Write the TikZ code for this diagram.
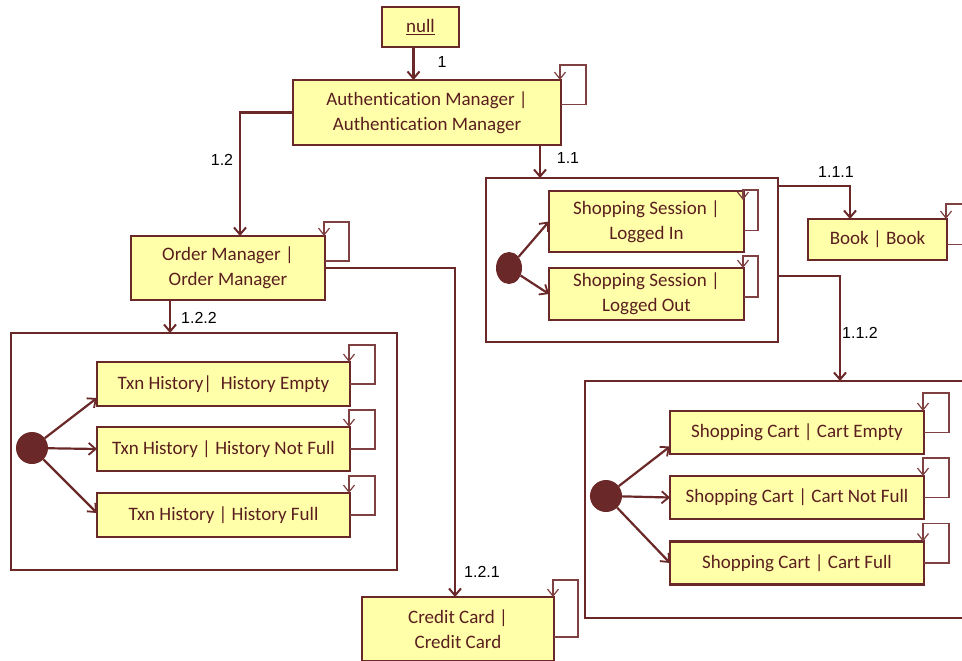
\documentclass[tikz,border=0pt]{standalone}
\usepackage{fontspec}
\setmainfont[Ligatures=NoCommon]{Carlito}
\newfontfamily\labelfont{Liberation Sans}
\usetikzlibrary{arrows.meta,shapes.geometric}
\definecolor{edgebrown}{HTML}{6B2828}
\definecolor{loopbrown}{HTML}{7E4040}
\definecolor{boxfill}{HTML}{FFFFAA}
\definecolor{textbrown}{HTML}{5A1E1E}
\tikzset{
  statebox/.style={draw=edgebrown, line width=2.4pt, fill=boxfill, text=textbrown,
    font=\fontsize{19}{25}\selectfont, align=center, inner sep=0pt, outer sep=0pt},
  region/.style={draw=edgebrown, line width=2.2pt, fill=white, inner sep=0pt, outer sep=0pt},
  initdot/.style={fill=edgebrown, draw=none, ellipse},
  flow/.style={draw=edgebrown, line width=2.4pt, -{Straight Barb[length=7pt,width=12pt,line width=2pt]}},
  entry/.style={draw=edgebrown, line width=2.2pt, -{Straight Barb[length=7pt,width=12pt,line width=1.8pt]}},
  selfloop/.style={draw=loopbrown, line width=1.4pt, -{Straight Barb[length=7pt,width=11pt,line width=1.2pt]}},
  seqlabel/.style={font=\labelfont\fontsize{16}{18}\selectfont, text=black, inner sep=0pt},
}
% self transition: leaves the east side, climbs above the box and drops onto its top-right corner
\newcommand{\selfloop}[4]{% node, east offset (up), loop width, loop rise
  \draw[selfloop] ([yshift=#2]#1.east) -- ++(#3,0pt) |- ([xshift=-1pt,yshift=#4]#1.north east) -- ([xshift=-1pt]#1.north east);}
\begin{document}
\begin{tikzpicture}[x=1pt,y=-1pt]
\useasboundingbox (0,0) rectangle (962,661);
\clip (0,0) rectangle (962,661);

% regions
\node[region, minimum width=292pt, minimum height=164pt] (sessregion) at (632,260) {};
\node[region, minimum width=386pt, minimum height=237pt] (txnregion) at (204,451.5) {};
\node[region, minimum width=395pt, minimum height=237pt] (cartregion) at (782.5,499.5) {};

% top-level objects
\node[statebox, minimum width=77pt, minimum height=40pt] (null) at (420.5,27) {\underline{null}};
\node[statebox, minimum width=268pt, minimum height=65pt] (auth) at (427,112.5) {Authentication Manager |\\Authentication Manager};
\node[statebox, minimum width=194pt, minimum height=64pt] (order) at (228,268) {Order Manager |\\Order Manager};
\node[statebox, minimum width=192pt, minimum height=64pt] (credit) at (458,629) {Credit Card |\\Credit Card};
\node[statebox, minimum width=139pt, minimum height=41pt] (book) at (877.5,239.5) {Book | Book};

% shopping session states
\node[statebox, minimum width=195pt, minimum height=61pt] (sess1) at (646.5,221.5) {Shopping Session |\\Logged In};
\node[statebox, minimum width=195pt, minimum height=52pt] (sess2) at (646.5,294) {Shopping Session |\\Logged Out};
\node[initdot, minimum width=26pt, minimum height=32pt, inner sep=0pt] (sessinit) at (509,268) {};

% transaction history states
\node[statebox, minimum width=253pt, minimum height=44pt] (txn1) at (223.5,384) {Txn History|\ \ History Empty};
\node[statebox, minimum width=253pt, minimum height=44pt] (txn2) at (223.5,449) {Txn History | History Not Full};
\node[statebox, minimum width=253pt, minimum height=44pt] (txn3) at (223.5,515) {Txn History | History Full};
\node[initdot, minimum size=32pt, inner sep=0pt] (txninit) at (32,448) {};

% shopping cart states
\node[statebox, minimum width=254pt, minimum height=43pt] (cart1) at (797,432.5) {Shopping Cart | Cart Empty};
\node[statebox, minimum width=254pt, minimum height=43pt] (cart2) at (797,497.5) {Shopping Cart | Cart Not Full};
\node[statebox, minimum width=254pt, minimum height=43pt] (cart3) at (797,563) {Shopping Cart | Cart Full};
\node[initdot, minimum size=32pt, inner sep=0pt] (cartinit) at (606,496) {};

% message flow
\draw[flow] ([xshift=-7pt]null.south) -- ([xshift=-7pt]null.south |- auth.north);
\draw[flow] (auth.west) -| (order.north -| 240,0);
\draw[flow] (auth.south -| 540,0) -- (sessregion.north -| 540,0);
\draw[flow] (sessregion.north east |- 0,186) -| (book.north -| 850,0);
\draw[flow] (sessregion.east |- 0,276) -| (cartregion.north -| 840,0);
\draw[flow] (order.south -| 170,0) -- (txnregion.north -| 170,0);
\draw[flow] (order.east) -| (credit.north -| 455,0);

% sequence numbers
\node[seqlabel] (l1) at (442,62) {1};
\node[seqlabel] (l12) at (222,160) {1.2};
\node[seqlabel] (l11) at (568,158) {1.1};
\node[seqlabel] (l122) at (199,318) {1.2.2};
\node[seqlabel] (l121) at (482,572) {1.2.1};
\node[seqlabel] (l111) at (836,172) {1.1.1};
\node[seqlabel] (l112) at (860,333) {1.1.2};

% initial transitions
\draw[entry] (sessinit) -- (sess1.west);
\draw[entry] (sessinit) -- (sess2.west);
\draw[entry] (txninit) -- ([yshift=-14pt]txn1.west);
\draw[entry] (txninit) -- (txn2.west);
\draw[entry] (txninit) -- ([yshift=2pt]txn3.west);
\draw[entry] (cartinit) -- ([yshift=-14pt]cart1.west);
\draw[entry] (cartinit) -- (cart2.west);
\draw[entry] (cartinit) -- (cart3.west);

% self transitions
\selfloop{auth}{8pt}{25pt}{15pt}
\selfloop{order}{7pt}{24pt}{14pt}
\selfloop{credit}{-8pt}{24pt}{17pt}
\selfloop{book}{-5pt}{24pt}{15pt}
\selfloop{txn1}{0pt}{25pt}{17pt}
\selfloop{txn2}{0pt}{25pt}{17pt}
\selfloop{txn3}{0pt}{25pt}{17pt}
\selfloop{cart1}{0pt}{25pt}{18pt}
\selfloop{cart2}{0pt}{25pt}{18pt}
\selfloop{cart3}{0pt}{25pt}{18pt}
\draw[selfloop] ([yshift=-9pt]sess1.east) -- ++(14pt,0pt) |- ([xshift=-1pt,yshift=1pt]sess1.north east) -- ([xshift=-1pt,yshift=-9pt]sess1.north east);
\draw[selfloop] ([yshift=-3pt]sess2.east) -- ++(14pt,0pt) |- ([xshift=-1pt,yshift=12pt]sess2.north east) -- ([xshift=-1pt]sess2.north east);
\end{tikzpicture}
\end{document}
